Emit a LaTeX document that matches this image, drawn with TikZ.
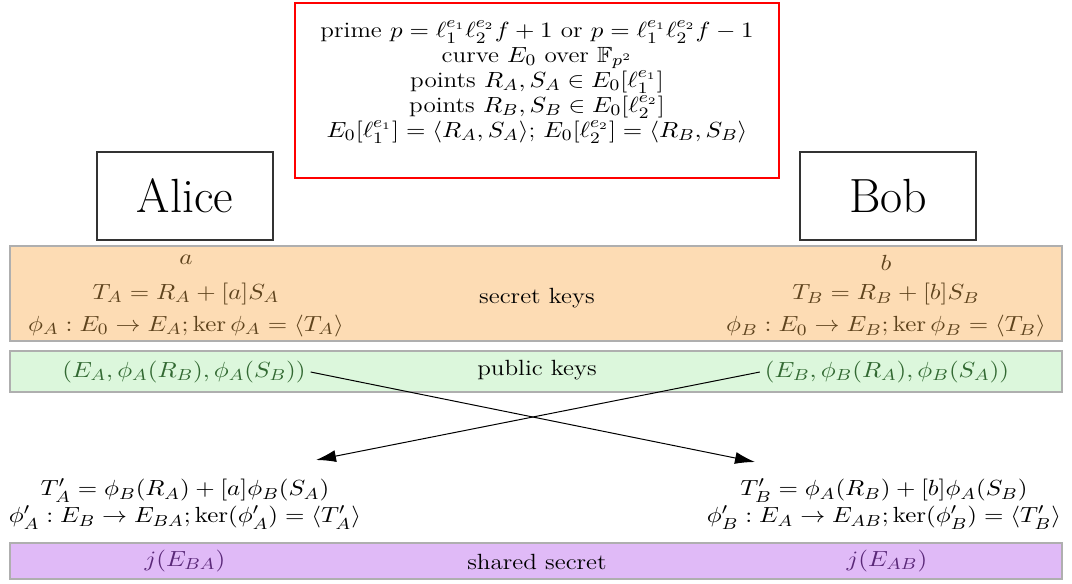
\documentclass[tikz,border=0pt]{standalone}
\usepackage{amsmath,amssymb}
\usetikzlibrary{arrows.meta}
\definecolor{bandorange}{RGB}{253,220,180}
\definecolor{bandgreen}{RGB}{220,247,220}
\definecolor{bandpurple}{RGB}{224,186,247}
\definecolor{bandborder}{RGB}{175,175,175}
\definecolor{txtorange}{RGB}{95,68,30}
\definecolor{txtgreen}{RGB}{50,105,50}
\definecolor{txtpurple}{RGB}{90,40,120}
\newcommand\mainfnt{\fontsize{11}{15}\selectfont\lineskiplimit=-20pt\relax}
\newcommand\tightfnt{\fontsize{11}{12.5}\selectfont\lineskiplimit=-20pt\relax}
\tikzset{
  band/.style={draw=bandborder, line width=0.6pt, minimum width=526pt, inner sep=0pt},
  person/.style={draw=black!80, line width=0.6pt, minimum width=88pt, minimum height=44pt, font=\fontsize{24}{28}\selectfont},
  cross/.style={line width=0.5pt, -{Latex[length=10pt,width=6pt]}},
  txt/.style={transform shape, xscale=1.14},
  stack/.style={txt, align=center, inner sep=0pt},
  tight/.style={font=\tightfnt}
}
\begin{document}
\begin{tikzpicture}[x=0.5pt,y=-0.5pt, font=\mainfnt]
\useasboundingbox (0,0) rectangle (1072,584);
% parameter box
\node[draw=red, line width=1pt, minimum width=242pt, minimum height=87.5pt, inner sep=0pt] (params) at (537,90.5) {};
\node[stack, tight] (paramtext) at (537,82) {prime $p=\ell_1^{e_1}\ell_2^{e_2}f+1$ or $p=\ell_1^{e_1}\ell_2^{e_2}f-1$\\
curve $E_0$ over $\mathbb{F}_{p^2}$\\
points $R_A,S_A\in E_0[\ell_1^{e_1}]$\\
points $R_B,S_B\in E_0[\ell_2^{e_2}]$\\
$E_0[\ell_1^{e_1}]=\langle R_A,S_A\rangle$;\ $E_0[\ell_2^{e_2}]=\langle R_B,S_B\rangle$};
% parties
\node[person] (alice) at (185,196) {Alice};
\node[person] (bob) at (888,196) {Bob};
% bands
\node[band, fill=bandorange, minimum height=47.5pt] (secretband) at (536,293.5) {};
\node[band, fill=bandgreen, minimum height=20.5pt] (publicband) at (536,371.5) {};
\node[band, fill=bandpurple, minimum height=18pt] (sharedband) at (536,561) {};
% secret keys
\node[txt] (secretlbl) at (537,298) {secret keys};
\node[stack, text=txtorange] (asecret) at (186,296) {$a$\\[2.5pt]
$T_A=R_A+[a]S_A$\\[1pt]
$\phi_A:E_0\to E_A;\ker\phi_A=\langle T_A\rangle$};
\node[stack, text=txtorange] (bsecret) at (886,296.5) {$b$\\[-0.5pt]
$T_B=R_B+[b]S_B$\\[1pt]
$\phi_B:E_0\to E_B;\ker\phi_B=\langle T_B\rangle$};
% public keys
\node[txt] (publiclbl) at (537,370) {public keys};
\node[txt, text=txtgreen, inner sep=2pt] (apub) at (184,372) {$(E_A,\phi_A(R_B),\phi_A(S_B))$};
\node[txt, text=txtgreen, inner sep=2pt] (bpub) at (887,372) {$(E_B,\phi_B(R_A),\phi_B(S_A))$};
% arrow targets
\coordinate (atgt) at (755,462);
\coordinate (btgt) at (316,460);
\draw[cross] (apub.east) -- (atgt);
\draw[cross] (bpub.west) -- (btgt);
% second isogenies
\node[stack] (acomp) at (185,504) {$T'_A=\phi_B(R_A)+[a]\phi_B(S_A)$\\[-1.5pt]
$\phi'_A:E_B\to E_{BA};\ker(\phi'_A)=\langle T'_A\rangle$};
\node[stack] (bcomp) at (884,504) {$T'_B=\phi_A(R_B)+[b]\phi_A(S_B)$\\[-1.5pt]
$\phi'_B:E_A\to E_{AB};\ker(\phi'_B)=\langle T'_B\rangle$};
% shared secret
\node[txt] (sharedlbl) at (537,562) {shared secret};
\node[txt, text=txtpurple] (ashared) at (185,561) {$j(E_{BA})$};
\node[txt, text=txtpurple] (bshared) at (887,561) {$j(E_{AB})$};
\end{tikzpicture}
\end{document}
